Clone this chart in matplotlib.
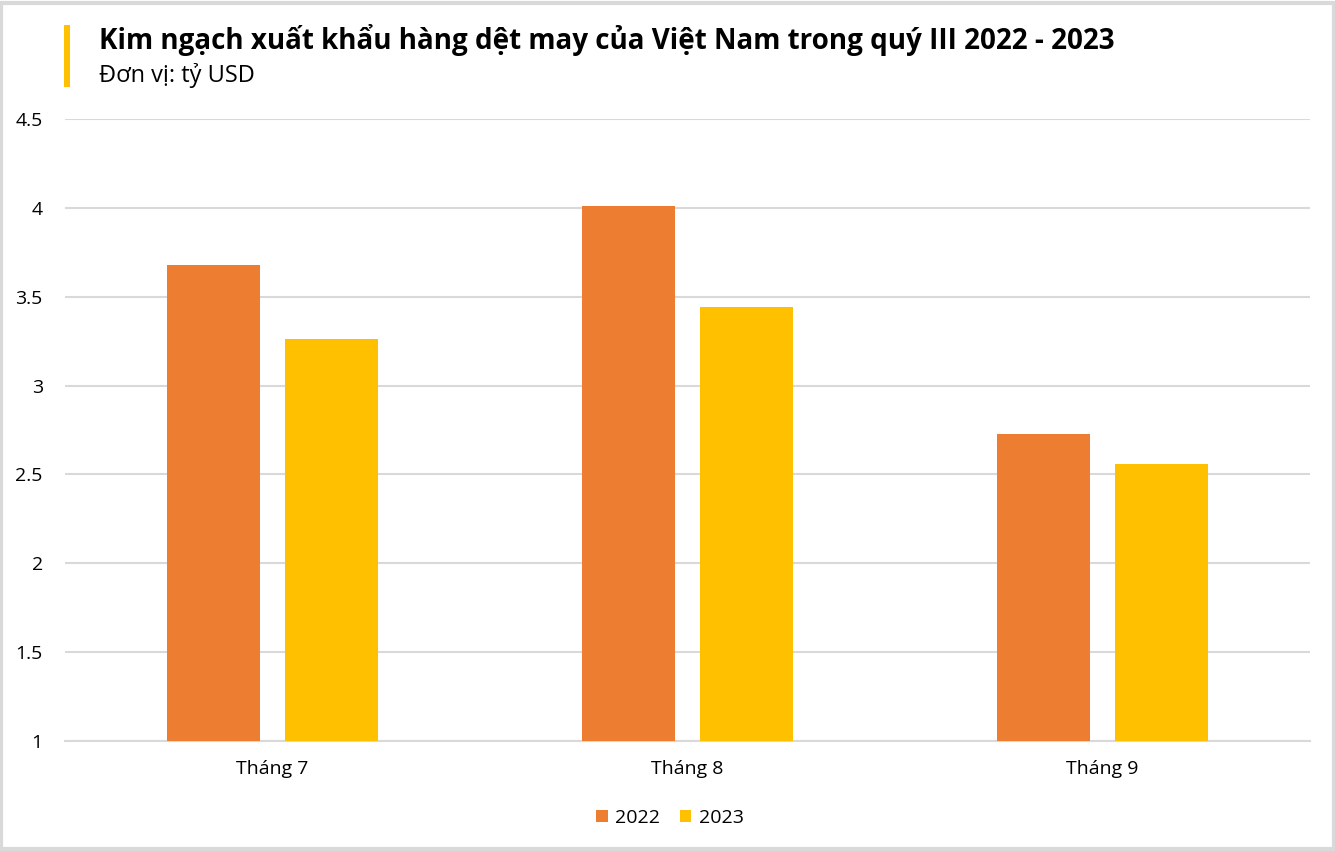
import matplotlib
matplotlib.use('Agg')
import matplotlib.pyplot as plt
import numpy as np
from matplotlib.patches import Rectangle

plt.rcParams['font.family'] = ['Open Sans', 'DejaVu Sans']

months = ['Tháng 7', 'Tháng 8', 'Tháng 9']
years = ['2022', '2023']
values_2022 = [3.68, 4.01, 2.73]
values_2023 = [3.26, 3.44, 2.56]
colors = ['#ED7D31', '#FFC000']

W, H = 1335, 851
fig = plt.figure(figsize=(W / 100, H / 100), dpi=100)
fig.patch.set_facecolor('white')

# plot area in pixels
ax = fig.add_axes([65 / W, 1 - 741 / H, (1310 - 65) / W, (741 - 119) / H])

x = np.arange(len(months))
bw = 0.224
off = 0.142
ax.bar(x - off, values_2022, bw, color=colors[0], label=years[0], zorder=3)
ax.bar(x + off, values_2023, bw, color=colors[1], label=years[1], zorder=3)

ax.set_xlim(-0.5, 2.5)
ax.set_ylim(1, 4.5)
ax.set_yticks(np.arange(1, 4.51, 0.5))
ax.set_yticklabels(['1', '1.5', '2', '2.5', '3', '3.5', '4', '4.5'])
ax.set_xticks(x)
ax.set_xticklabels(months)
ax.yaxis.grid(True, color='#d9d9d9', linewidth=1.5, zorder=0)
ax.set_axisbelow(True)
for s in ['top', 'right', 'left']:
    ax.spines[s].set_visible(False)
ax.spines['bottom'].set_color('#d9d9d9')
ax.spines['bottom'].set_linewidth(1.5)
ax.tick_params(axis='both', length=0, labelsize=14, colors='#000000')
ax.tick_params(axis='y', pad=16)
ax.tick_params(axis='x', pad=14)

leg = fig.legend(loc='center', bbox_to_anchor=(670 / W, 1 - 818 / H), ncol=2, frameon=False,
                 fontsize=14, handlelength=0.6, handleheight=0.6, handletextpad=0.4,
                 columnspacing=1.0)

# title block
fig.patches.append(Rectangle((64 / W, 1 - 87 / H), 6 / W, 62 / H, transform=fig.transFigure,
                             facecolor='#FFC000', edgecolor='none'))
fig.text(99 / W, 1 - 40 / H, 'Kim ngạch xuất khẩu hàng dệt may của Việt Nam trong quý III 2022 - 2023',
         fontsize=20, fontweight='bold', va='center', ha='left')
fig.text(99 / W, 1 - 76 / H, 'Đơn vị: tỷ USD', fontsize=17, va='center', ha='left')

# outer frame
fig.patches.append(Rectangle((0.001, 0.002), 0.998, 0.995, transform=fig.transFigure,
                             facecolor='none', edgecolor='#d9d9d9', linewidth=3))

fig.savefig('out.png', dpi=100)
